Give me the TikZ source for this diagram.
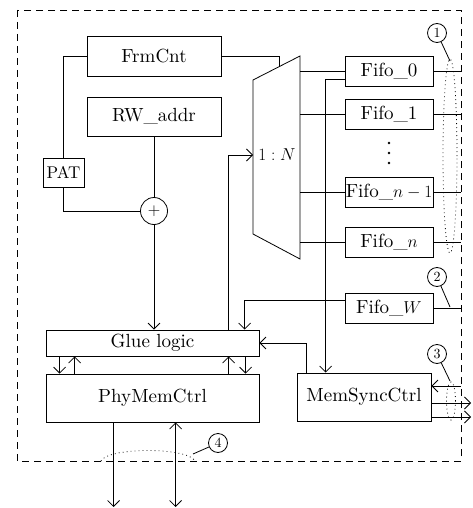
\documentclass[tikz,border=0pt]{standalone}
\usepackage{fontspec}
\setmainfont{lmroman10-regular.otf}[ItalicFont=lmroman10-italic.otf, BoldFont=lmroman10-bold.otf]
\usetikzlibrary{arrows.meta,calc}
\begin{document}
\begin{tikzpicture}[x=1pt,y=-1pt, line width=0.8pt,
  >={Straight Barb[length=6pt,width=12pt]},
  box/.style={draw, rectangle, inner sep=0pt, font=\fontsize{19}{22}\selectfont},
  num/.style={draw, circle, inner sep=0pt, minimum size=19pt, font=\fontsize{14}{16}\selectfont},
  dots/.style={line width=0.8pt, dash pattern=on 0.8pt off 3.2pt}]
\useasboundingbox (0,0) rectangle (472,508);
\draw[dash pattern=on 7pt off 5pt] (17,10) rectangle (461,461);

% left blocks
\node[box, minimum width=134pt, minimum height=40pt] (frm) at (154,56) {FrmCnt};
\node[box, minimum width=134pt, minimum height=39pt] (rw) at (154,116.5) {RW\_addr};
\node[box, minimum width=41pt, minimum height=29pt, font=\fontsize{17}{20}\selectfont] (pat) at (63.5,172.5) {PAT};
\node[draw, circle, minimum size=27pt, inner sep=0pt, font=\fontsize{16}{18}\selectfont] (plus) at (154,211) {$+$};

% mux
\coordinate (mtl) at (253,80);
\coordinate (mtr) at (300,56);
\coordinate (mbr) at (300,259);
\coordinate (mbl) at (253,234);
\draw (mtl) -- (mtr) -- (mbr) -- (mbl) -- cycle;
\node[font=\fontsize{19}{22}\selectfont, inner sep=0pt] (ratio) at (277,155) {$1:N$};
\coordinate (ratioin) at (253,155);
\coordinate (muxin) at ($(mtl)!0.553!(mtr)$);

% fifos
\node[box, minimum width=88pt, minimum height=30pt] (f0) at (389,71) {Fifo\_0};
\node[box, minimum width=88pt, minimum height=30pt] (f1) at (389,114) {Fifo\_1};
\node[box, minimum width=88pt, minimum height=30pt] (fn1) at (389,192.5) {Fifo\_$n-1$};
\node[box, minimum width=88pt, minimum height=30pt] (fn) at (389,242.5) {Fifo\_$n$};
\node[box, minimum width=88pt, minimum height=30pt] (fw) at (389,308) {Fifo\_$W$};
\foreach \yy in {143,153,163} \fill (389,\yy) circle[radius=1.3pt];

% bottom blocks
\node[box, minimum width=213pt, minimum height=26pt] (glue) at (152.5,343) {Glue logic};
\node[box, minimum width=213pt, minimum height=48pt] (phy) at (152.5,398) {PhyMemCtrl};
\node[box, minimum width=134pt, minimum height=48pt] (ms) at (364,397) {MemSyncCtrl};

% coordinates
\coordinate (bR) at (461,0);
\coordinate (bRR) at (471,0);
\coordinate (bot) at (0,507);
\coordinate (msin) at ($(ms.north west)+(29,0)$);
\coordinate (msout) at ($(ms.north west)+(10,0)$);
\coordinate (gw) at ($(glue.north west)+(199,0)$);
\coordinate (gr) at ($(glue.north west)+(183,0)$);
\coordinate (o1) at ($(phy.south west)+(68,0)$);
\coordinate (o2) at ($(phy.south west)+(130,0)$);

% connectors left
\draw (frm.west) -| (pat.north);
\draw (pat.south) |- (plus.west);
\draw (rw.south) -- (plus.north);
\draw[->] (plus.south) -- (plus.south |- glue.north);
\draw (frm.east) -| (muxin);
\draw[->] (gr) |- (ratioin);

% mux outputs
\foreach \f in {f0,f1,fn1,fn} {
  \draw (\f.west) -- (\f.west -| mtr);
  \draw (\f.east) -- (\f.east -| bR);
}
\draw[->] ([yshift=-8pt]f0.west) -| (msin);
\draw[->] ([yshift=8pt]fw.west) -| (gw);
\draw (fw.east) -- (fw.east -| bR);
\draw[->] (msout) |- (glue.east);

% glue <-> phy
\draw[->] ($(glue.south west)+(14,0)$) -- ($(phy.north west)+(14,0)$);
\draw[->] ($(phy.north west)+(29,0)$) -- ($(glue.south west)+(29,0)$);
\draw[->] ($(phy.north west)+(183,0)$) -- ($(glue.south west)+(183,0)$);
\draw[->] ($(glue.south west)+(200,0)$) -- ($(phy.north west)+(200,0)$);

% memsync right
\draw[<-] ([yshift=11pt]ms.east) -- ([yshift=11pt]ms.east -| bR);
\draw[->] ([yshift=-6pt]ms.east) -- ([yshift=-6pt]ms.east -| bRR);
\draw[->] ([yshift=-20pt]ms.east) -- ([yshift=-20pt]ms.east -| bRR);

% bottom outputs
\draw[->] (o1) -- (o1 |- bot);
\draw[<->] (o2) -- (o2 |- bot);

% annotations
\node[num] (n1) at (437,33) {1};
\node[num] (n2) at (437,277) {2};
\node[num] (n3) at (437,354) {3};
\node[num] (n4) at (218,443) {4};
\coordinate (p1) at (450,61);
\coordinate (p2) at (450,307);
\coordinate (p3) at (450,381);
\coordinate (p4) at (193,454);
\draw (n1) -- (p1);
\draw (n2) -- (p2);
\draw (n3) -- (p3);
\draw (n4) -- (p4);
\draw[dots] (450,156) ellipse [x radius=7pt, y radius=97pt];
\draw[dots] (451,401) ellipse [x radius=4.5pt, y radius=19pt];
\draw[dots] (101,461) .. controls (108,447) and (188,447) .. (195,461);
\end{tikzpicture}
\end{document}
